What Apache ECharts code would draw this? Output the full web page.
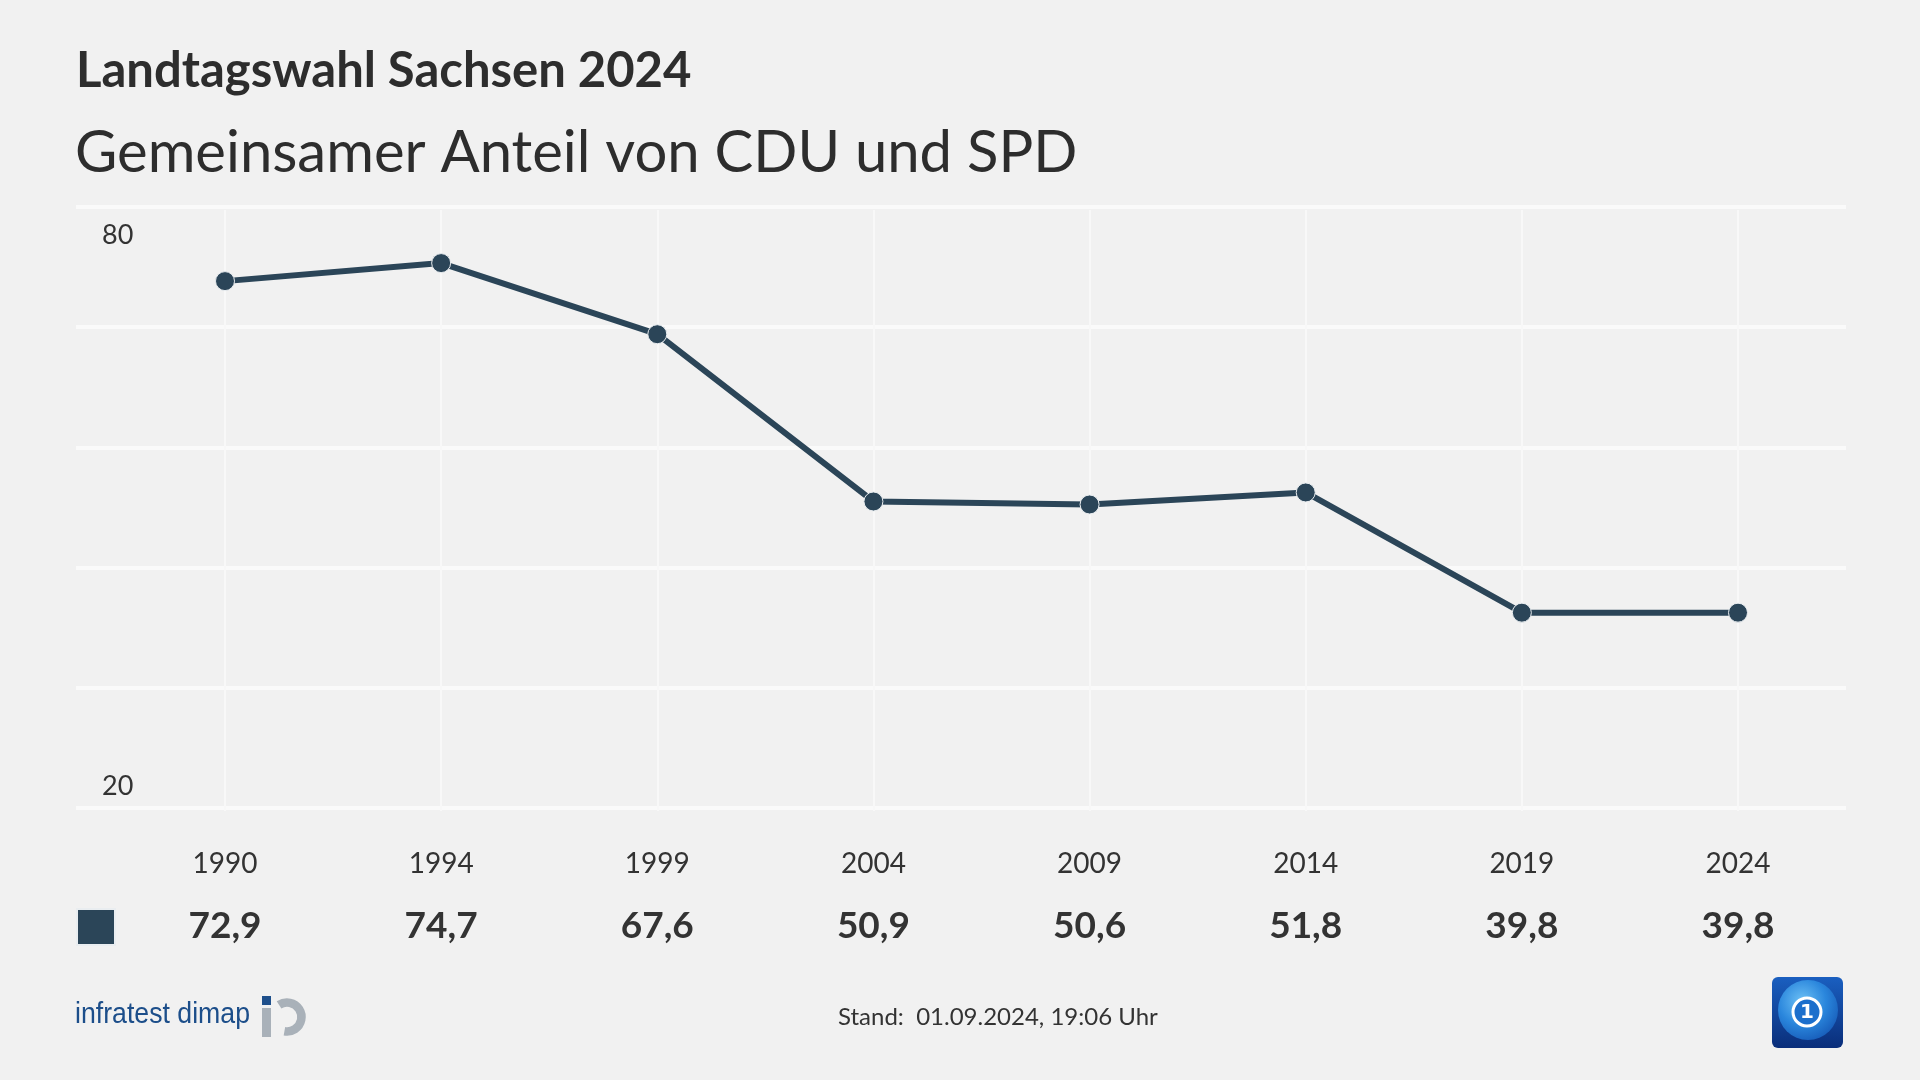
<!DOCTYPE html>
<html>
<head>
<meta charset="utf-8">
<script src="https://cdn.jsdelivr.net/npm/echarts@6/dist/echarts.min.js"></script>
<style>
html,body{margin:0;padding:0;background:#f1f1f1;}
#chart{width:1920px;height:1080px;}
</style>
</head>
<body>
<div id="chart"></div>
<script>
const years = ['1990', '1994', '1999', '2004', '2009', '2014', '2019', '2024'];
const shareCduSpd = [72.9, 74.7, 67.6, 50.9, 50.6, 51.8, 39.8, 39.8];
const yTickLabels = [20, 80];
const seriesName = 'CDU und SPD';

const lineColor = '#2b4558';
const textColor = '#333333';
const fontMain = 'Lato, "Open Sans", sans-serif';

const valueLabels = shareCduSpd.map(v => v.toFixed(1).replace('.', ','));

const chart = echarts.init(document.getElementById('chart'), null, {renderer: 'canvas'});

const option = {
  backgroundColor: '#f1f1f1',
  animation: false,
  textStyle: {fontFamily: fontMain},
  title: [
    {text: 'Landtagswahl Sachsen 2024', left: 76, top: 47, padding: 0,
     textStyle: {fontFamily: fontMain, fontSize: 49, fontWeight: 'bold', color: '#2d2d2d'}},
    {text: 'Gemeinsamer Anteil von CDU und SPD', left: 75, top: 124, padding: 0,
     textStyle: {fontFamily: fontMain, fontSize: 58, fontWeight: 'normal', color: '#2d2d2d'}},
    {text: 'Stand:  01.09.2024, 19:06 Uhr', left: 838, top: 1005, padding: 0,
     textStyle: {fontFamily: fontMain, fontSize: 24, fontWeight: 'normal', color: '#333'}}
  ],
  legend: {
    show: true, left: 76, top: 908, padding: 0, icon: 'rect', itemWidth: 38, itemHeight: 36,
    formatter: () => '', data: [seriesName], selectedMode: false,
    textStyle: {fontSize: 1}
  },
  grid: [
    {left: 225, right: 182, top: 210, bottom: 269, containLabel: false},
    {left: 76, right: 74, top: 207, bottom: 272, containLabel: false}
  ],
  xAxis: [
    {type: 'category', gridIndex: 0, data: years, boundaryGap: false,
     axisLine: {show: false}, axisTick: {show: false},
     splitLine: {show: true, lineStyle: {color: '#f8f8f8', width: 2}},
     axisLabel: {interval: 0, margin: 39, fontSize: 28, color: textColor, fontFamily: fontMain}},
    {type: 'category', gridIndex: 0, data: valueLabels, boundaryGap: false, position: 'bottom',
     axisLine: {show: false}, axisTick: {show: false}, splitLine: {show: false},
     axisLabel: {interval: 0, margin: 97, fontSize: 37, fontWeight: 'bold', color: textColor, fontFamily: fontMain}},
    {type: 'value', gridIndex: 1, min: 0, max: 1, show: false}
  ],
  yAxis: [
    {type: 'value', gridIndex: 0, min: yTickLabels[0], max: yTickLabels[1], interval: 12, show: false,
     splitLine: {show: false}},
    {type: 'value', gridIndex: 1, min: yTickLabels[0], max: yTickLabels[1], interval: 12,
     axisLine: {show: false}, axisTick: {show: false},
     splitLine: {show: true, lineStyle: {color: '#fafafa', width: 4}},
     axisLabel: {
       inside: true, margin: 26, fontSize: 27, color: textColor, fontFamily: fontMain,
       formatter: v => (v === yTickLabels[1] ? '{t|' + v + '}' : (v === yTickLabels[0] ? '{b|' + v + '}' : '')),
       rich: {
         t: {padding: [56, 0, 0, 0], fontSize: 27, color: textColor, fontFamily: fontMain},
         b: {padding: [0, 0, 44, 0], fontSize: 27, color: textColor, fontFamily: fontMain}
       }
     }}
  ],
  series: [
    {name: seriesName, type: 'line', xAxisIndex: 0, yAxisIndex: 0, data: shareCduSpd,
     color: lineColor,
     lineStyle: {color: lineColor, width: 6},
     symbol: 'circle', symbolSize: 19,
     itemStyle: {color: lineColor, borderColor: '#e9edf0', borderWidth: 1},
     z: 5}
  ],
  graphic: [
    // infratest dimap wordmark and mark
    {type: 'text', x: 75, y: 1015, scaleX: 0.92,
     style: {text: 'infratest dimap', fill: '#1c4e8a', font: '29px "Liberation Sans Narrow", sans-serif',
             align: 'left', verticalAlign: 'middle'}},
    {type: 'rect', shape: {x: 262, y: 996, width: 9, height: 9}, style: {fill: '#1e4f8b'}},
    {type: 'rect', shape: {x: 262, y: 1008, width: 9, height: 29}, style: {fill: '#a9b1b9'}},
    {type: 'arc', shape: {cx: 287, cy: 1017, r: 14.5, startAngle: -2.15, endAngle: 1.75, clockwise: true},
     style: {stroke: '#a9b1b9', lineWidth: 8.5, fill: null}},
    // tagesschau logo
    {type: 'rect', shape: {x: 1772, y: 977, width: 71, height: 71, r: 6},
     style: {fill: {type: 'linear', x: 0, y: 0, x2: 0, y2: 1,
       colorStops: [{offset: 0, color: '#1a5fc0'}, {offset: 1, color: '#0a2e7a'}]}}},
    {type: 'circle', shape: {cx: 1808, cy: 1010, r: 30},
     style: {fill: {type: 'radial', x: 0.4, y: 0.35, r: 0.8,
       colorStops: [{offset: 0, color: '#6cc0f5'}, {offset: 0.5, color: '#2a86dc'}, {offset: 1, color: '#114fae'}]}}},
    {type: 'circle', shape: {cx: 1807, cy: 1012, r: 14}, style: {fill: '#1c6fcc', stroke: '#ffffff', lineWidth: 3}},
    {type: 'text', x: 1807, y: 1013, style: {text: '1', fill: '#ffffff', font: 'bold 20px "DejaVu Sans", sans-serif', align: 'center', verticalAlign: 'middle'}}
  ]
};

chart.setOption(option);
</script>
</body>
</html>
